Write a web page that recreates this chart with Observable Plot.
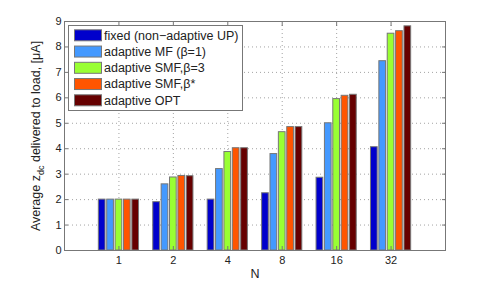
<!DOCTYPE html>
<html>
<head>
<meta charset="utf-8">
<script src="https://cdn.jsdelivr.net/npm/d3@7"></script>
<script src="https://cdn.jsdelivr.net/npm/@observablehq/plot@0.6"></script>
<style>
  html, body { margin: 0; padding: 0; background: #fff; }
  #chart svg { display: block; }
</style>
</head>
<body>
<div id="chart"></div>
<script>
// ---- data ----
const N = ["1", "2", "4", "8", "16", "32"];
const seriesNames = [
  "fixed (non\u2212adaptive UP)",
  "adaptive MF (\u03b2=1)",
  "adaptive SMF,\u03b2=3",
  "adaptive SMF,\u03b2*",
  "adaptive OPT"
];
const fixedUP = [2.0, 1.9, 2.0, 2.25, 2.86, 4.06];
const adaptiveMF = [2.0, 2.6, 3.2, 3.79, 5.0, 7.44];
const adaptiveSMF3 = [2.0, 2.87, 3.87, 4.65, 5.95, 8.52];
const adaptiveSMFStar = [2.0, 2.93, 4.02, 4.85, 6.08, 8.62];
const adaptiveOPT = [2.0, 2.92, 4.02, 4.85, 6.12, 8.81];
const yTicks = [0, 1, 2, 3, 4, 5, 6, 7, 8, 9];
const colors = ["#0000cc", "#4499ff", "#99ff33", "#ff5500", "#660000"];

const seriesValues = [fixedUP, adaptiveMF, adaptiveSMF3, adaptiveSMFStar, adaptiveOPT];

// Matlab-style grouped bar layout (in x units, groups at 1..n)
const nS = seriesValues.length;
const groupWidth = Math.min(0.8, nS / (nS + 1.5));
const barStep = groupWidth / nS;
const barW = 0.8 * barStep;

const rows = [];
seriesValues.forEach((vals, j) => {
  vals.forEach((v, i) => {
    const c = (i + 1) + (j - (nS - 1) / 2) * barStep;
    rows.push({series: seriesNames[j], x1: c - barW / 2, x2: c + barW / 2, value: v});
  });
});
const xTickPos = N.map((_, i) => i + 1);

const font = "'Liberation Sans', Arial, Helvetica, sans-serif";
const axisColor = "#777";

const chart = Plot.plot({
  width: 491,
  height: 282,
  marginLeft: 64,
  marginRight: 46,
  marginTop: 21,
  marginBottom: 32,
  style: {fontFamily: font, fontSize: "11px", background: "#fff", color: "#222"},
  x: {type: "linear", domain: [0, N.length + 1]},
  y: {domain: [0, 9]},
  color: {domain: seriesNames, range: colors},
  marks: [
    Plot.gridY(yTicks.slice(1, -1), {stroke: "#999", strokeOpacity: 0.9, strokeDasharray: "1,3"}),
    Plot.gridX(xTickPos, {stroke: "#999", strokeOpacity: 0.9, strokeDasharray: "1,3"}),
    Plot.rectY(rows, {x1: "x1", x2: "x2", y1: 0, y2: "value", fill: "series", stroke: "#777", strokeWidth: 1}),
    Plot.frame({stroke: axisColor}),
    Plot.axisY(yTicks, {anchor: "left", tickSize: -4, tickPadding: 7, label: null, stroke: axisColor, fontSize: 11}),
    Plot.axisY(yTicks, {anchor: "right", tickSize: -4, tickFormat: () => "", label: null, stroke: axisColor}),
    Plot.axisX(xTickPos, {anchor: "bottom", tickSize: -4, tickPadding: 10, tickFormat: (d) => N[d - 1], label: null, stroke: axisColor, fontSize: 11}),
    Plot.axisX(xTickPos, {anchor: "top", tickSize: -4, tickFormat: () => "", label: null, stroke: axisColor}),
    Plot.text(["N"], {frameAnchor: "bottom", dy: 23, fontSize: 12.5, lineAnchor: "middle", fill: "#222"})
  ]
});

document.getElementById("chart").appendChild(chart);

// ---- y axis label with subscript ----
const svg = d3.select(chart);
const yl = svg.append("text")
  .attr("transform", "translate(40,136) rotate(-90)")
  .attr("text-anchor", "middle")
  .attr("font-family", font)
  .attr("font-size", 12.5)
  .attr("fill", "#222");
yl.append("tspan").text("Average z");
yl.append("tspan").attr("font-size", 9).attr("dy", 4).text("dc");
yl.append("tspan").attr("dy", -4).text(" delivered to load, [\u03bcA]");

// ---- legend (inside plot, top-left) ----
const lg = svg.append("g").attr("font-family", font).attr("font-size", 12.5).attr("text-anchor", "start");
lg.append("rect").attr("x", 68.5).attr("y", 25.5).attr("width", 174).attr("height", 85)
  .attr("fill", "#fff").attr("stroke", axisColor);
seriesNames.forEach((name, j) => {
  const cy = 35.3 + j * 16.25;
  lg.append("rect").attr("x", 74.5).attr("y", cy - 5.5).attr("width", 27).attr("height", 11)
    .attr("fill", colors[j]).attr("stroke", "#777");
  lg.append("text").attr("x", 104).attr("y", cy).attr("dy", "0.35em")
    .attr("text-anchor", "start").attr("fill", "#222").text(name);
});
</script>
</body>
</html>
